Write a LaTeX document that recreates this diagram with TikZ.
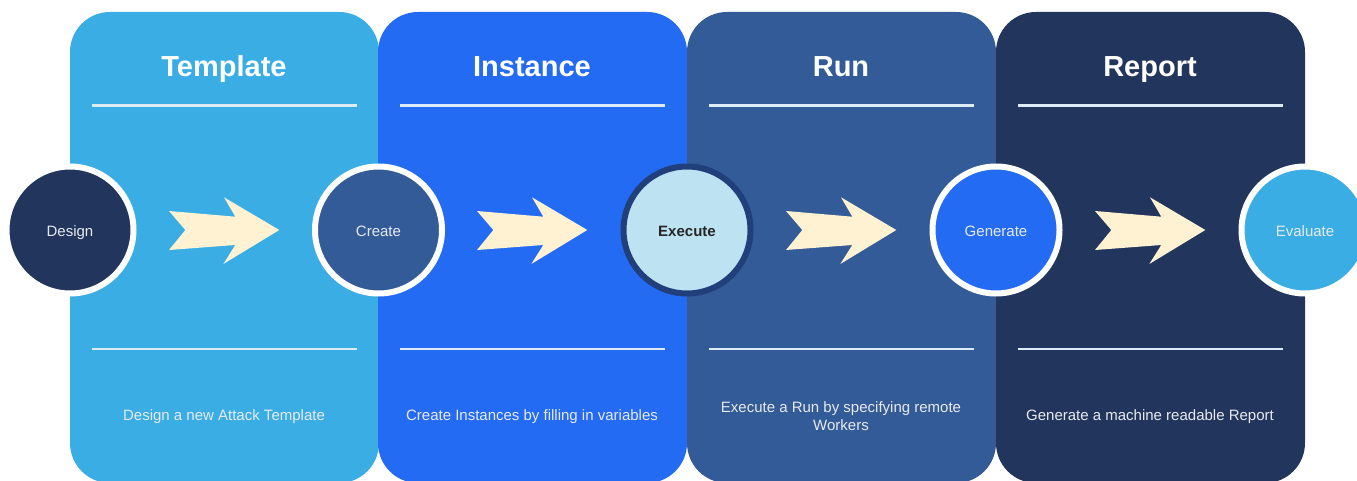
\documentclass[tikz,border=0pt]{standalone}
\usepackage{fontspec}
\setmainfont{Liberation Sans}
\definecolor{tmplblue}{HTML}{3AAEE4}
\definecolor{instblue}{HTML}{246BF3}
\definecolor{runblue}{HTML}{325B97}
\definecolor{repnavy}{HTML}{22355D}
\definecolor{arrowcream}{HTML}{FFF2D2}
\definecolor{execfill}{HTML}{BDE2F2}
\definecolor{execring}{HTML}{213F7B}
\definecolor{softwhite}{HTML}{E8EAF2}
\definecolor{rulewhite}{HTML}{DCEBF6}
\begin{document}
\begin{tikzpicture}[x=1pt,y=-1pt,
  panel/.style={fill=#1, draw=none, rounded corners=40pt},
  title/.style={text=white, font=\fontsize{29}{35}\selectfont\bfseries, inner sep=0pt},
  divider/.style={draw=rulewhite, line width=2.5pt},
  desc/.style={text=softwhite, font=\fontsize{15}{18}\selectfont, align=center, inner sep=0pt},
  stage/.style={circle, fill=#1, draw=white, line width=6pt, minimum size=127pt, inner sep=0pt,
    text height=12.5pt, text depth=0pt,
    text=softwhite, font=\fontsize{15}{18}\selectfont},
  flow/.style={fill=arrowcream, draw=none}]
\useasboundingbox (0,0) rectangle (1357,481);
\clip (0,0) rectangle (1357,481);
\fill[white] (0,0) rectangle (1357,481);

% column panels
\foreach \x/\c in {70/tmplblue, 378/instblue, 687/runblue, 996/repnavy}{
  \path[panel=\c] (\x,12) rectangle ++(309,471);
  \draw[divider] (\x+22,105.5) -- ++(265,0);
  \draw[divider] (\x+22,349) -- ++(265,0);
  % flow arrow between the stage circles
  \path[flow] (\x+99,211) -- (\x+115.3,230) -- (\x+99,250) -- (\x+165.3,245)
    -- (\x+153.3,264) -- (\x+209.3,230) -- (\x+154,197.3) -- (\x+165.3,216.7) -- cycle;
}

% column titles
\node[title, anchor=base] (tTemplate) at (224,77) {Template};
\node[title, anchor=base] (tInstance) at (532,77) {Instance};
\node[title, anchor=base] (tRun) at (841,77) {Run};
\node[title, anchor=base] (tReport) at (1150,77) {Report};

% column descriptions
\node[desc, anchor=base] (dTemplate) at (224,420.5) {Design a new Attack Template};
\node[desc, anchor=base] (dInstance) at (532,420.5) {Create Instances by filling in variables};
\node[desc] (dRun) at (841,416.5) {Execute a Run by specifying remote\\Workers};
\node[desc, anchor=base] (dReport) at (1150,420.5) {Generate a machine readable Report};

% stage circles
\node[stage=repnavy] (design) at (70,230) {Design};
\node[stage=runblue] (create) at (378.5,230) {Create};
\node[stage=execfill, draw=execring, text=black!85, font=\fontsize{15}{18}\selectfont\bfseries] (execute) at (687,230) {Execute};
\node[stage=instblue] (generate) at (996,230) {Generate};
\node[stage=tmplblue] (evaluate) at (1305,230) {Evaluate};
\end{tikzpicture}
\end{document}
